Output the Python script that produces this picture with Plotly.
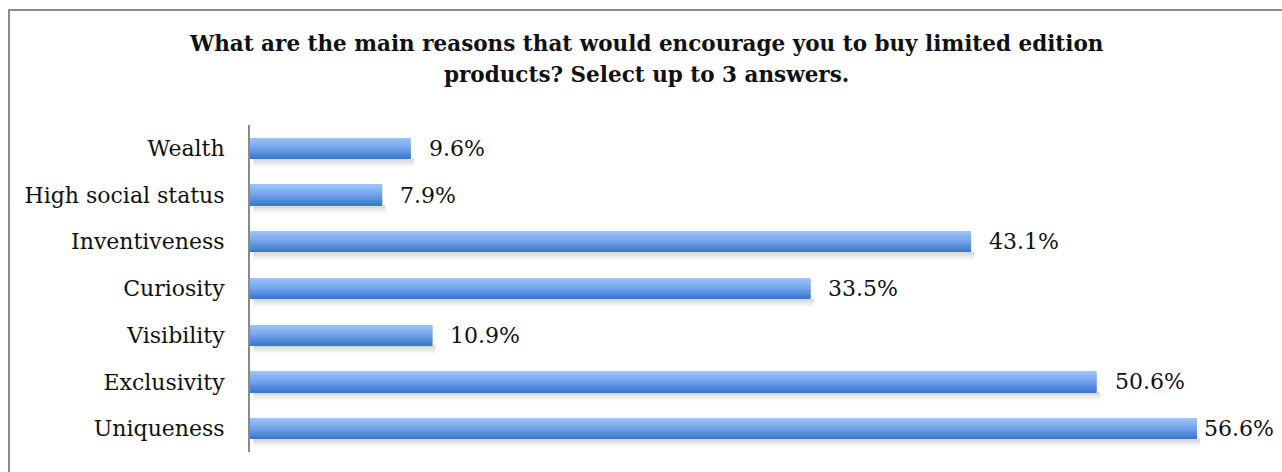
import plotly.graph_objects as go

# Survey results: reasons that encourage buying limited edition products
categories = ["Wealth", "High social status", "Inventiveness", "Curiosity",
              "Visibility", "Exclusivity", "Uniqueness"]
shares = [9.6, 7.9, 43.1, 33.5, 10.9, 50.6, 56.6]
share_labels = ["9.6%", "7.9%", "43.1%", "33.5%", "10.9%", "50.6%", "56.6%"]

title_lines = ["What are the main reasons that would encourage you to buy limited edition",
               "products? Select up to 3 answers."]

W, H = 1282, 472
ML, MR, MT, MB = 250, 32, 125, 20
plot_w = W - ML - MR
plot_h = H - MT - MB
x_max = plot_w / 16.73          # pixels per percentage point
FONT = "DejaVu Serif"
TEXT_C = "#111111"

pos = list(range(len(categories)))   # category slots, top to bottom
bar_w = 0.43

fig = go.Figure()


def lerp(c1, c2, t):
    return tuple(round(a + (b - a) * t) for a, b in zip(c1, c2))


# soft drop shadow just below each bar, fading downwards
n_sh = 6
for k in range(n_sh):
    a = 0.15 * (1 - k / n_sh)
    dy = bar_w / 2 + (k + 0.5) * 0.03
    fig.add_trace(go.Bar(
        y=[p + dy for p in pos], x=shares, orientation="h", base=0.2,
        width=0.032,
        marker=dict(color="rgba(0,0,0,%.3f)" % a, line=dict(width=0)),
        hoverinfo="skip", showlegend=False,
    ))

# vertical gradient on the bars from thin strips: light top, darker bottom
top_c, mid_c, bot_c = (156, 195, 250), (116, 164, 236), (62, 123, 206)
n_strips = 24
step = bar_w / n_strips
for i in range(n_strips):
    t = i / (n_strips - 1)
    c = lerp(top_c, mid_c, t / 0.5) if t < 0.5 else lerp(mid_c, bot_c, (t - 0.5) / 0.5)
    dy = -bar_w / 2 + (i + 0.5) * step
    fig.add_trace(go.Bar(
        y=[p + dy for p in pos], x=shares, orientation="h",
        width=step * 1.2,
        marker=dict(color="rgb(%d,%d,%d)" % c, line=dict(width=0)),
        hoverinfo="skip", showlegend=False,
    ))

# value labels right of each bar; tighten the gap when a label would leave the page
px_per_unit = plot_w / x_max
for p, v, lab in zip(pos, shares, share_labels):
    gap = 16
    if ML + v * px_per_unit + gap + 72 > W - 6:
        gap = 5
    fig.add_annotation(
        x=v, y=p, xref="x", yref="y", text=lab, showarrow=False,
        xanchor="left", yanchor="middle", xshift=gap,
        font=dict(family=FONT, size=22, color=TEXT_C),
    )

# two-line bold title
for line, y_px in zip(title_lines, [44, 75]):
    fig.add_annotation(
        x=(646 - ML) / plot_w, y=(H - MB - y_px) / plot_h, xref="paper", yref="paper",
        text="<b>%s</b>" % line, showarrow=False, xanchor="center", yanchor="middle",
        font=dict(family=FONT, size=21.5, color=TEXT_C),
    )

# outer frame of the chart area
fig.add_shape(
    type="rect", xref="paper", yref="paper",
    x0=(9 - ML) / plot_w, x1=(W + 20 - ML) / plot_w,
    y0=-(MB + 30) / plot_h, y1=(H - 10 - MB) / plot_h,
    line=dict(color="#8a8a8a", width=2), fillcolor="rgba(0,0,0,0)", layer="below",
)

fig.update_layout(
    width=W, height=H,
    margin=dict(l=ML, r=MR, t=MT, b=MB),
    paper_bgcolor="white", plot_bgcolor="white",
    barmode="overlay",
    showlegend=False,
    xaxis=dict(range=[0, x_max], showgrid=False, zeroline=False, showticklabels=False,
               showline=False, ticks=""),
    yaxis=dict(range=[len(categories) - 0.5, -0.5], showgrid=False, zeroline=False,
               tickmode="array", tickvals=pos, ticktext=categories,
               showline=True, linecolor="#8a8a8a", linewidth=2,
               ticks="", ticklabelstandoff=19,
               tickfont=dict(family=FONT, size=22, color=TEXT_C)),
)

fig.write_html("out.html")
